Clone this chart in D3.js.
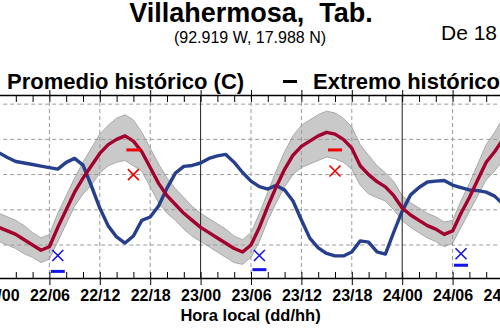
<!DOCTYPE html>
<html>
<head>
<meta charset="utf-8">
<script src="https://cdn.jsdelivr.net/npm/d3@7"></script>
<style>
  body { margin: 0; background: #fff; }
  svg { display: block; font-family: "Liberation Sans", Arial, sans-serif; }
</style>
</head>
<body>
<svg id="chart"></svg>
<script>
// hourly data, hour 0 = 22/00
const hours = d3.range(0, 61);

const tempMean = [25.0, 24.8, 24.6, 24.3, 24.0, 23.7, 23.9, 25.0, 26.0, 27.0,
  27.8, 28.5, 29.2, 29.7, 30.0, 30.2, 29.9, 29.3, 28.4, 27.5,
  26.8, 26.3, 25.8, 25.4, 25.0, 24.7, 24.4, 24.1, 23.8, 23.6,
  24.0, 25.0, 26.2, 27.3, 28.3, 29.1, 29.6, 29.9, 30.2, 30.4,
  30.3, 30.0, 29.5, 28.5, 28.0, 27.6, 27.3, 26.8, 26.1, 25.7,
  25.4, 25.1, 24.9, 24.6, 24.8, 25.8, 26.7, 27.7, 28.7, 29.3, 30.0];

const tempUpper = [25.8, 25.6, 25.4, 25.1, 24.7, 24.4, 24.6, 25.8, 26.8, 27.8,
  28.7, 29.5, 30.3, 30.8, 31.2, 31.4, 31.1, 30.4, 29.5, 28.6,
  27.8, 27.2, 26.7, 26.2, 25.8, 25.5, 25.2, 24.9, 24.5, 24.3,
  24.7, 25.8, 27.0, 28.2, 29.3, 30.2, 30.8, 31.1, 31.4, 31.6,
  31.5, 31.2, 30.7, 29.7, 29.1, 28.5, 28.1, 27.6, 26.8, 26.4,
  26.1, 25.8, 25.6, 25.3, 25.4, 26.5, 27.5, 28.6, 29.7, 30.4, 31.2];

const tempLower = [24.2, 24.0, 23.8, 23.5, 23.3, 23.0, 23.2, 24.2, 25.2, 26.2,
  26.9, 27.4, 28.1, 28.5, 28.7, 28.8, 28.5, 28.2, 27.3, 26.4,
  25.8, 25.4, 24.9, 24.5, 24.2, 23.9, 23.6, 23.3, 23.0, 22.9,
  23.3, 24.2, 25.4, 26.4, 27.3, 28.0, 28.4, 28.6, 28.8, 29.0,
  28.9, 28.7, 28.3, 27.4, 26.9, 26.7, 26.5, 26.0, 25.4, 25.0,
  24.7, 24.4, 24.2, 23.9, 24.1, 25.0, 25.9, 26.8, 27.7, 28.2, 28.8];

const humidity = [80.8, 79.3, 78.0, 77.5, 77.0, 76.5, 76.0, 75.5, 77.7, 79.0,
  76.8, 70.0, 62.8, 57.0, 53.4, 51.4, 53.7, 58.8, 59.9, 63.5,
  69.3, 74.2, 76.4, 76.7, 77.5, 79.0, 79.8, 80.3, 77.7, 74.4,
  71.6, 69.8, 69.0, 70.2, 68.7, 65.1, 58.9, 53.0, 49.8, 48.0,
  47.2, 47.2, 48.5, 52.1, 51.7, 48.5, 47.8, 55.0, 61.8, 67.1,
  69.5, 71.3, 71.6, 71.8, 70.3, 69.5, 68.7, 68.5, 68.0, 66.7, 64.1];

// historical extremes
const maxExtHours = [16, 40];
const maxExtRecord = [29.4, 29.4];
const maxExtMark = [28.0, 28.2];
const minExtHours = [7, 31, 55];
const minExtRecord = [22.5, 22.6, 22.85];
const minExtMark = [23.4, 23.4, 23.5];

const tickHours = [0, 6, 12, 18, 24, 30, 36, 42, 48, 54, 60];
const tickLabels = ["22/00", "22/06", "22/12", "22/18", "23/00", "23/06",
  "23/12", "23/18", "24/00", "24/06", "24/12"];
const gridTemps = [24, 26, 28, 30, 32];

const width = 500, height = 328;
const plotTop = 95, plotBottom = 278;

const svg = d3.select("#chart")
  .attr("width", width)
  .attr("height", height);

const x = d3.scaleLinear().domain([-2, 62]).range([-17.8, 519.8]);
const y = d3.scaleLinear().domain([22.125, 32.52]).range([plotBottom, plotTop]);
const yHum = d3.scaleLinear().domain([40, 100]).range([plotBottom, 94]);

// band of historical spread
const band = d3.area()
  .x((d, i) => x(hours[i]))
  .y0((d, i) => y(tempLower[i]))
  .y1((d, i) => y(tempUpper[i]));

svg.append("path")
  .datum(tempMean)
  .attr("d", band)
  .attr("fill", "#c9c9c9")
  .attr("stroke", "#a9a9a9")
  .attr("stroke-width", 1);

// grid
const grid = svg.append("g")
  .attr("stroke", "#9a9a9a")
  .attr("stroke-width", 1)
  .attr("stroke-dasharray", "4,3");

grid.selectAll("line.h")
  .data(gridTemps)
  .join("line")
  .attr("class", "h")
  .attr("x1", x.range()[0]).attr("x2", x.range()[1])
  .attr("y1", d => y(d)).attr("y2", d => y(d));

grid.selectAll("line.v")
  .data(tickHours.filter(h => h % 24 !== 0))
  .join("line")
  .attr("class", "v")
  .attr("x1", d => x(d)).attr("x2", d => x(d))
  .attr("y1", plotTop).attr("y2", plotBottom);

svg.append("g")
  .selectAll("line")
  .data(tickHours.filter(h => h % 24 === 0))
  .join("line")
  .attr("x1", d => x(d)).attr("x2", d => x(d))
  .attr("y1", plotTop).attr("y2", plotBottom)
  .attr("stroke", "#222")
  .attr("stroke-width", 1);

// lines
svg.append("path")
  .datum(humidity)
  .attr("d", d3.line().x((d, i) => x(hours[i])).y(d => yHum(d)))
  .attr("fill", "none")
  .attr("stroke", "#263f8c")
  .attr("stroke-width", 3.4)
  .attr("stroke-linejoin", "round");

svg.append("path")
  .datum(tempMean)
  .attr("d", d3.line().x((d, i) => x(hours[i])).y(d => y(d)))
  .attr("fill", "none")
  .attr("stroke", "#a3002e")
  .attr("stroke-width", 3.4)
  .attr("stroke-linejoin", "round");

// extreme markers
function dash(g, hs, vals, color) {
  g.selectAll(null)
    .data(hs)
    .join("line")
    .attr("x1", (d, i) => x(d) - 7).attr("x2", (d, i) => x(d) + 7)
    .attr("y1", (d, i) => y(vals[i])).attr("y2", (d, i) => y(vals[i]))
    .attr("stroke", color)
    .attr("stroke-width", 3);
}

function cross(g, hs, vals, color) {
  const s = 5.5;
  hs.forEach((h, i) => {
    const cx = x(h), cy = y(vals[i]);
    g.append("path")
      .attr("d", `M${cx - s},${cy - s}L${cx + s},${cy + s}M${cx - s},${cy + s}L${cx + s},${cy - s}`)
      .attr("stroke", color)
      .attr("stroke-width", 1.6)
      .attr("fill", "none");
  });
}

const marks = svg.append("g");
dash(marks, maxExtHours, maxExtRecord, "#f00000");
cross(marks, maxExtHours, maxExtMark, "#f00000");
dash(marks, minExtHours, minExtRecord, "#1414e6");
cross(marks, minExtHours, minExtMark, "#1414e6");

// axes
const minorHours = d3.range(-2, 63, 2);

svg.append("g")
  .attr("transform", `translate(0,${plotBottom})`)
  .call(d3.axisBottom(x).tickValues(minorHours).tickSize(-6).tickFormat(""))
  .call(g => g.select(".domain").attr("stroke-width", 1.5));

svg.append("g")
  .attr("transform", `translate(0,${plotBottom})`)
  .call(d3.axisBottom(x).tickValues(tickHours).tickSize(7).tickPadding(5)
    .tickFormat((d, i) => tickLabels[i]))
  .call(g => g.select(".domain").remove())
  .call(g => g.selectAll("text")
    .attr("fill", "#000")
    .style("font-family", "'Liberation Sans', Arial, sans-serif")
    .style("font-size", "16px")
    .style("font-weight", "bold"));

svg.append("g")
  .attr("transform", `translate(0,${plotTop})`)
  .call(d3.axisTop(x).tickValues(minorHours).tickSize(-7).tickFormat(""))
  .call(g => g.select(".domain").attr("stroke-width", 1.5));

svg.append("g")
  .attr("transform", `translate(0,${plotTop})`)
  .call(d3.axisTop(x).tickValues(tickHours).tickSize(5).tickFormat(""))
  .call(g => g.select(".domain").remove());

// titles
svg.append("text")
  .attr("x", 251)
  .attr("y", 22)
  .attr("text-anchor", "middle")
  .style("font-size", "27px")
  .style("font-weight", "bold")
  .style("white-space", "pre")
  .text("Villahermosa,  Tab.");

svg.append("text")
  .attr("x", 250)
  .attr("y", 42.5)
  .attr("text-anchor", "middle")
  .style("font-size", "16px")
  .text("(92.919 W, 17.988 N)");

svg.append("text")
  .attr("x", 441)
  .attr("y", 40)
  .style("font-size", "21px")
  .text("De 18");

svg.append("text")
  .attr("x", 7)
  .attr("y", 88.5)
  .style("font-size", "22px")
  .style("font-weight", "bold")
  .text("Promedio histórico (C)");

svg.append("line")
  .attr("x1", 283).attr("x2", 297)
  .attr("y1", 81.5).attr("y2", 81.5)
  .attr("stroke", "#000")
  .attr("stroke-width", 3);

svg.append("text")
  .attr("x", 313)
  .attr("y", 88.5)
  .style("font-size", "22px")
  .style("font-weight", "bold")
  .text("Extremo histórico (C)");

svg.append("text")
  .attr("x", 250.5)
  .attr("y", 321)
  .attr("text-anchor", "middle")
  .style("font-size", "16.5px")
  .style("font-weight", "bold")
  .text("Hora local (dd/hh)");

svg.append("text")
  .attr("x", 10)
  .attr("y", 339.5)
  .style("font-size", "16px")
  .style("font-weight", "bold")
  .attr("fill", "#2a9a2a")
  .text("Estación automática del día");
</script>
</body>
</html>
